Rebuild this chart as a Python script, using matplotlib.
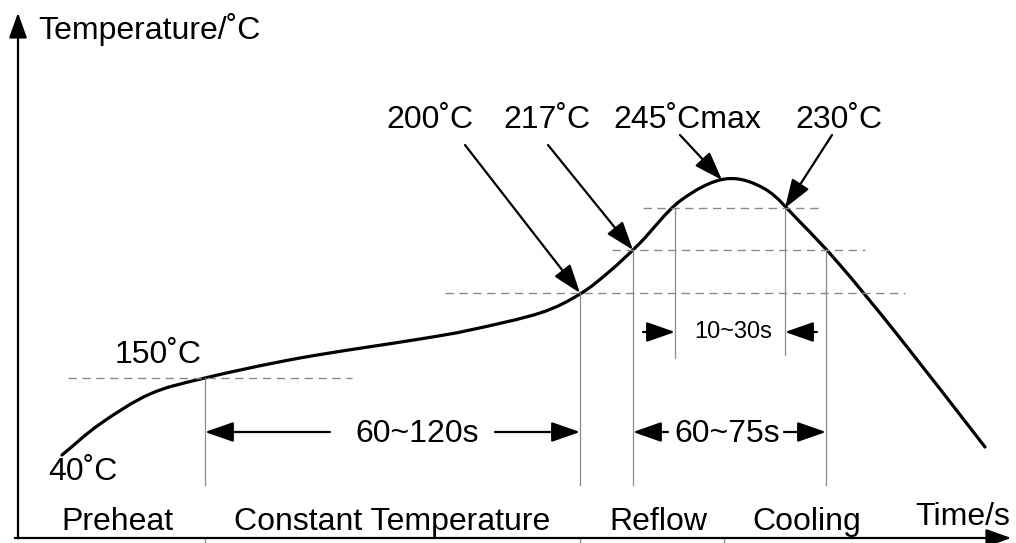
import numpy as np
import matplotlib.pyplot as plt
from matplotlib.path import Path
from matplotlib.patches import PathPatch

plt.rcParams['font.family'] = ['Liberation Sans', 'DejaVu Sans']

# reflow profile, schematic units (x = time position, y = height on the sketch, top = 0)
curve_t = [62, 100, 150, 205, 300, 420, 470, 540, 580, 610, 640, 680, 725, 765, 800, 840, 900, 985]
curve_y = [455, 424, 394, 378, 358, 339, 330, 313, 294, 271, 243, 201, 179, 189, 222, 265, 338, 447]

# key temperature levels on the sketch
levels = {'150': 378, '200': 293, '217': 250, '230': 208, '245': 180}
# dashed guide lines: (level, x start, x end)
dashes = [('150', 68, 352), ('200', 445, 905), ('217', 612, 865), ('230', 643, 822)]
# vertical guides: (x, top level, bottom)
verts = [(205, '150', 485), (580, '200', 485), (633, '217', 485), (826, '217', 485),
         (675, '230', 358), (785, '230', 355)]
# phase boundary ticks below axis
phase_ticks = [205, 580, 724]

fig = plt.figure(figsize=(10.16, 5.43), dpi=100)
ax = fig.add_axes([0, 0, 1, 1])
ax.set_xlim(0, 1016)
ax.set_ylim(543, 0)
ax.axis('off')

grey = '#8a8a8a'
for lv, x0, x1 in dashes:
    ax.plot([x0, x1], [levels[lv], levels[lv]], color=grey, lw=1.0, ls=(0, (6, 4)))
for x, lv, yb in verts:
    ax.plot([x, x], [levels[lv], yb], color=grey, lw=0.9)
for x in phase_ticks:
    ax.plot([x, x], [538, 543], color=grey, lw=0.9)

# smooth curve through the read points (Catmull-Rom segments as cubic Bezier path)
p = np.column_stack([curve_t, curve_y]).astype(float)
ext = np.vstack([2 * p[0] - p[1], p, 2 * p[-1] - p[-2]])
verts_path = [p[0]]
codes = [Path.MOVETO]
for i in range(1, len(ext) - 2):
    p0, p1, p2, p3 = ext[i - 1], ext[i], ext[i + 1], ext[i + 2]
    verts_path += [p1 + (p2 - p0) / 6, p2 - (p3 - p1) / 6, p2]
    codes += [Path.CURVE4] * 3
ax.add_patch(PathPatch(Path(verts_path, codes), fill=False, color='black', lw=2.3, capstyle='round'))

# axes arrows
big = dict(arrowstyle='-|>,head_length=0.7,head_width=0.25', color='black', lw=1.6, mutation_scale=22)
ax.annotate('', xy=(18, 10), xytext=(18, 541), arrowprops=big)
ax.annotate('', xy=(1014, 538), xytext=(12, 538), arrowprops=big)

arr = dict(arrowstyle='-|>,head_length=0.8,head_width=0.28', color='black', lw=1.6,
           mutation_scale=22, shrinkA=0, shrinkB=0)

deg = '\u02daC'
# callouts
callouts = [('200' + deg, 430, 465, 145, 580, levels['200']),
            ('217' + deg, 547, 548, 145, 633, levels['217']),
            ('245' + deg + 'max', 687, 680, 135, 722, levels['245']),
            ('230' + deg, 839, 832, 135, 785, levels['230'])]
for txt, tx, x0, y0, x1, y1 in callouts:
    ax.text(tx, 128, txt, fontsize=23, ha='center', va='baseline')
    ax.annotate('', xy=(x1, y1), xytext=(x0, y0), arrowprops=arr)

# span arrows
ax.annotate('', xy=(205, 432), xytext=(330, 432), arrowprops=arr)
ax.annotate('', xy=(580, 432), xytext=(495, 432), arrowprops=arr)
ax.text(417, 442, '60~120s', fontsize=23, ha='center', va='baseline')
ax.annotate('', xy=(633, 432), xytext=(668, 432), arrowprops=arr)
ax.annotate('', xy=(826, 432), xytext=(784, 432), arrowprops=arr)
ax.text(727, 442, '60~75s', fontsize=23, ha='center', va='baseline')
ax.annotate('', xy=(675, 332), xytext=(643, 332), arrowprops=arr)
ax.annotate('', xy=(785, 332), xytext=(817, 332), arrowprops=arr)
ax.text(733, 338, '10~30s', fontsize=17, ha='center', va='baseline')

ax.text(38, 39, 'Temperature/' + deg, fontsize=23, ha='left', va='baseline')
ax.text(158, 363, '150' + deg, fontsize=23, ha='center', va='baseline')
ax.text(48, 480, '40' + deg, fontsize=23, ha='left', va='baseline')

phases = ['Preheat', 'Constant Temperature', 'Reflow', 'Cooling']
phase_x = [117, 392, 658, 807]
for ph, x in zip(phases, phase_x):
    ax.text(x, 530, ph, fontsize=23, ha='center', va='baseline')
ax.text(963, 525, 'Time/s', fontsize=23, ha='center', va='baseline')

fig.savefig('out.png', dpi=100)
